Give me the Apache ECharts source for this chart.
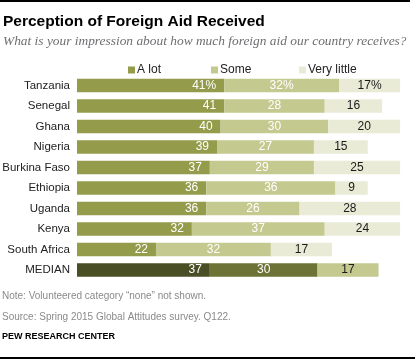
<!DOCTYPE html>
<html><head><meta charset="utf-8">
<script src="https://cdn.jsdelivr.net/npm/echarts@6/dist/echarts.min.js"></script>
<style>html,body{margin:0;padding:0;background:#fff}#c{width:415px;height:360px}</style>
</head><body><div id="c"></div>
<script>
const categories = ['Tanzania','Senegal','Ghana','Nigeria','Burkina Faso','Ethiopia','Uganda','Kenya','South Africa','MEDIAN'];
const aLot =       [41,41,40,39,37,36,36,32,22,37];
const some =       [32,28,30,27,29,36,26,37,32,30];
const veryLittle = [17,16,20,15,25, 9,28,24,17,17];
const seriesNames = ['A lot','Some','Very little'];

const colors = ['#949c4b','#c4c98f','#e9ebd7'];
const medianColors = ['#4a4e24','#6d7337','#c4c98f'];
const labelColors = ['#ffffff','#ffffff','#1a1a1a'];
const legendLeft = [128, 211, 299];
const medianIdx = categories.indexOf('MEDIAN');

function mk(vals, k){
  return vals.map((v,i)=> i===medianIdx ? {value:v, itemStyle:{color:medianColors[k]}} : v);
}
const fmt = p => p.dataIndex===0 ? p.value+'%' : String(p.value);
const lab = (k, pos, dist) => ({show:true, position:pos, distance:dist, color:labelColors[k], fontSize:12, fontFamily:'Liberation Sans, Arial', formatter:fmt});

const chart = echarts.init(document.getElementById('c'));
chart.setOption({
  animation:false,
  textStyle:{fontFamily:'Liberation Sans, Arial'},
  legend: seriesNames.map((n,k)=>({
    left:legendLeft[k], top:64, padding:0, itemWidth:7, itemHeight:7, icon:'rect',
    data:[n], selectedMode:false,
    textStyle:{fontSize:12, color:'#222', padding:[0,0,0,-3]}
  })),
  grid:{left:77, top:75.25, height:205, width:323.1, outerBoundsMode:'none', containLabel:false},
  xAxis:{type:'value', min:0, max:90, show:false},
  yAxis:{type:'category', data:categories, inverse:true,
    axisLine:{show:false}, axisTick:{show:false},
    axisLabel:{fontSize:11.5, color:'#222', margin:7}},
  series:[
    {name:seriesNames[0], type:'bar', stack:'s', barWidth:13.5, data:mk(aLot,0), itemStyle:{color:colors[0]}, label:lab(0,'insideRight',8)},
    {name:seriesNames[1], type:'bar', stack:'s', barWidth:13.5, data:mk(some,1), itemStyle:{color:colors[1]}, label:lab(1,'inside')},
    {name:seriesNames[2], type:'bar', stack:'s', barWidth:13.5, data:mk(veryLittle,2), itemStyle:{color:colors[2]}, label:lab(2,'inside')}
  ],
  graphic:[
    {type:'rect', shape:{x:0,y:0,width:410,height:2}, style:{fill:'#000'}},
    {type:'text', left:3, top:14, style:{text:'Perception of Foreign Aid Received', font:'bold 15.5px Liberation Sans, Arial', fill:'#000'}},
    {type:'text', left:3, top:35, style:{text:'What is your impression about how much foreign aid our country receives?', font:'italic 13.4px Liberation Serif, serif', fill:'#6d6e71'}},
    {type:'text', left:2, top:291, style:{text:'Note: Volunteered category \u201cnone\u201d not shown.', font:'10px Liberation Sans, Arial', fill:'#8a8a8a'}},
    {type:'text', left:2, top:312, style:{text:'Source: Spring 2015 Global Attitudes survey. Q122.', font:'10px Liberation Sans, Arial', fill:'#8a8a8a'}},
    {type:'text', left:2, top:332, style:{text:'PEW RESEARCH CENTER', font:'bold 9px Liberation Sans, Arial', fill:'#000'}},
    {type:'rect', shape:{x:0,y:357,width:415,height:2}, style:{fill:'#000'}}
  ]
});
</script></body></html>
